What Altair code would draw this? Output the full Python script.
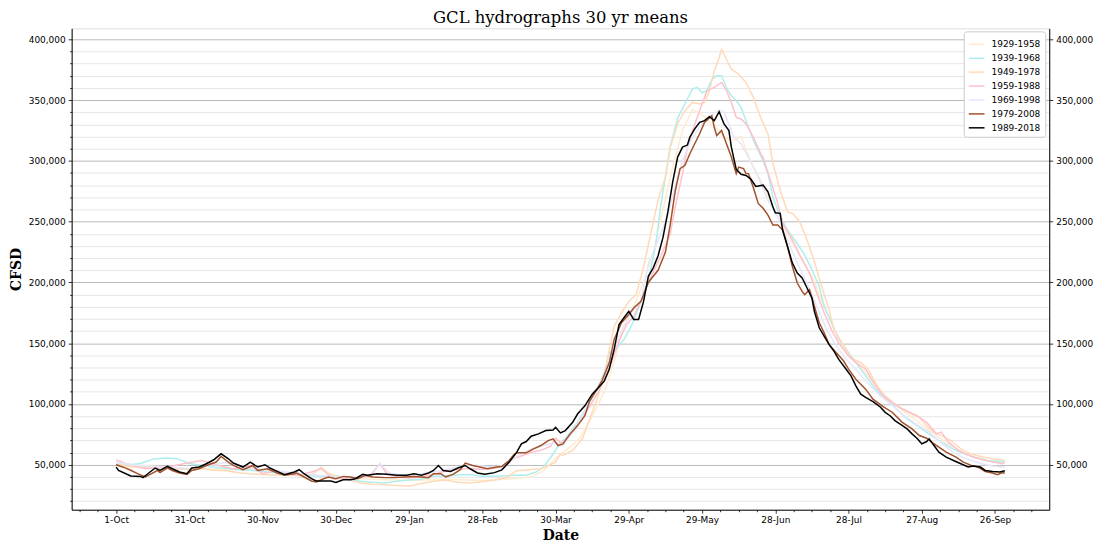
import altair as alt
import pandas as pd

PERIODS = ["1929-1958", "1939-1968", "1949-1978", "1959-1988", "1969-1998", "1979-2008", "1989-2018"]
COLORS = ["#FFEBCD", "#AFEEEE", "#FFDAB9", "#FFC0CB", "#E6E6FA", "#A0522D", "#000000"]
WIDTHS = [1.5, 1.5, 1.5, 1.5, 1.5, 1.5, 2.0]

X_TICK_LABELS = ["1-Oct", "31-Oct", "30-Nov", "30-Dec", "29-Jan", "28-Feb", "30-Mar",
                 "29-Apr", "29-May", "28-Jun", "28-Jul", "27-Aug", "26-Sep"]

# 1929-1958
D_1929 = [0, 15, 30, 45, 60, 75, 90, 105, 120, 135, 150, 160, 170, 175, 180, 185, 190, 195, 200, 204,
          208, 212, 216, 220, 224, 228, 232, 236, 240, 243, 246, 249, 253, 256, 258, 261, 265, 270, 275,
          280, 285, 290, 295, 300, 305, 310, 316, 322, 328, 334, 340, 346, 352, 358, 364]
V_1929 = [50000, 49000, 47000, 46000, 45000, 42000, 40000, 38000, 37000, 38000, 37000, 38000, 40000,
          45000, 55000, 63000, 72000, 90000, 110000, 135000, 165000, 180000, 200000, 225000, 260000,
          295000, 325000, 342000, 338000, 332000, 327000, 319000, 317000, 320000, 309000, 295000, 280000,
          258000, 240000, 222000, 205000, 180000, 158000, 142000, 130000, 118000, 105000, 95000, 86000,
          77000, 68000, 61000, 56000, 53000, 52000]

# 1939-1968
D_1939 = [0, 5, 10, 15, 20, 25, 30, 35, 40, 45, 50, 55, 60, 65, 70, 75, 80, 85, 90, 95, 100, 105, 110,
          115, 120, 125, 130, 135, 140, 145, 150, 155, 160, 165, 168, 172, 175, 178, 181, 185, 189, 193,
          197, 200, 202, 205, 208, 211, 214, 218, 221, 223, 225, 227, 230, 233, 236, 238, 240, 242, 244,
          246, 248, 250, 252, 254, 256, 258, 261, 263, 265, 267, 269, 272, 275, 278, 282, 285, 288, 290,
          293, 296, 300, 303, 307, 311, 315, 318, 320, 324, 330, 337, 344, 351, 357, 364]
V_1939 = [52000, 50000, 51000, 54500, 55500, 55000, 51000, 49500, 48000, 47000, 46000, 45500, 44500,
          43500, 42500, 41500, 41000, 40500, 41000, 38500, 36500, 35500, 35000, 36500, 37500, 38000,
          40500, 41000, 41500, 42000, 40500, 40500, 41000, 41500, 41300, 44000, 48000, 56000, 65000,
          74000, 85000, 98000, 112000, 126000, 142000, 146000, 153000, 164000, 179000, 202000, 230000,
          262000, 287000, 312000, 335000, 347000, 359000, 360400, 356000, 358000, 367000, 370000, 370000,
          360000, 353600, 349500, 344000, 333000, 317000, 308600, 300000, 289500, 270400, 254000, 243100,
          234900, 222600, 210400, 196700, 180400, 166800, 153100, 142200, 134000, 123100, 112200, 104000,
          99900, 95000, 87600, 79500, 69900, 61700, 56300, 53500, 52200]

# 1949-1978
D_1949 = [0, 5, 10, 15, 20, 25, 30, 35, 40, 45, 50, 55, 60, 65, 70, 75, 80, 84, 87, 90, 95, 100, 105,
          110, 115, 120, 125, 130, 135, 140, 145, 150, 155, 160, 164, 170, 174, 180, 182, 183, 187, 191,
          194, 197, 200, 202, 204, 207, 210, 213, 216, 219, 222, 225, 227, 230, 233, 236, 239, 241, 243,
          245, 247, 248, 250, 252, 255, 258, 261, 264, 267, 269, 272, 275, 277, 280, 283, 286, 289, 292,
          294, 298, 301, 305, 308, 311, 314, 318, 322, 326, 329, 332, 335, 338, 342, 346, 350, 355, 359, 364]
V_1949 = [50500, 48500, 47500, 48000, 47000, 46500, 46000, 47000, 45500, 45000, 43500, 42500, 42000,
          41500, 42000, 41000, 41500, 48000, 43000, 40500, 38000, 35000, 34000, 33500, 33000, 32500,
          34500, 36500, 37500, 35500, 35000, 36000, 37500, 39500, 45000, 46000, 46700, 52200, 59000,
          57600, 61700, 71300, 87600, 104000, 123100, 144900, 164000, 175000, 184400, 190000, 212000,
          240400, 267700, 286700, 311300, 330400, 341300, 348100, 346800, 348100, 357700, 374000, 384900,
          391800, 383600, 375400, 371300, 364500, 352200, 335800, 322000, 298000, 275800, 258100, 256800,
          250000, 235000, 217200, 196700, 177700, 161300, 147600, 138100, 134000, 128600, 117700, 108100,
          101300, 95800, 91700, 89000, 82200, 76800, 74000, 69900, 63100, 59000, 56300, 54900, 53500]

# 1959-1988
D_1959 = [0, 4, 12, 21, 28, 35, 42, 48, 55, 60, 66, 74, 80, 84, 89, 95, 100, 104, 108, 111, 115, 120,
          125, 130, 135, 140, 145, 150, 155, 160, 163, 167, 170, 174, 178, 180, 182, 185, 189, 193, 197,
          200, 203, 206, 209, 212, 215, 218, 221, 223, 227, 229, 232, 234, 237, 240, 242, 245, 248, 250,
          252, 254, 256, 258, 261, 264, 265, 268, 271, 273, 277, 280, 284, 287, 290, 293, 296, 300, 303,
          307, 311, 315, 321, 328, 332, 336, 338, 341, 345, 351, 356, 363, 364]
V_1959 = [54000, 51000, 47000, 48000, 51000, 53500, 49400, 46700, 49400, 42600, 45300, 41300, 44000,
          46700, 38500, 39000, 40000, 41000, 51000, 42000, 40000, 39000, 40000, 42000, 45000, 46000,
          47000, 46000, 47000, 50000, 55000, 58000, 60000, 62000, 65000, 72000, 68000, 72000, 82000,
          95000, 108000, 120000, 135000, 152000, 165000, 172000, 185000, 200000, 213000, 221000, 240000,
          262000, 289500, 311000, 330000, 347000, 357700, 360400, 364500, 357700, 348000, 335800, 334500,
          330400, 319500, 306000, 303000, 284000, 265000, 248600, 235000, 222600, 207700, 191300, 175000,
          161000, 150000, 139500, 134000, 128600, 115000, 105000, 97000, 90300, 84900, 75400, 76800,
          68600, 61700, 56300, 53500, 50800, 52000]

# 1969-1998
D_1969 = [0, 10, 20, 30, 40, 45, 50, 60, 70, 80, 90, 100, 105, 108, 112, 120, 130, 140, 145, 150, 155,
          160, 165, 170, 175, 180, 183, 187, 191, 195, 199, 203, 207, 211, 215, 218, 222, 226, 229, 232,
          235, 238, 241, 244, 247, 249, 251, 253, 256, 259, 263, 267, 271, 275, 279, 283, 287, 291, 295,
          299, 303, 307, 313, 318, 323, 328, 333, 338, 343, 348, 354, 359, 364]
V_1969 = [52000, 49000, 48000, 47000, 50000, 52000, 48000, 46000, 44000, 42000, 40000, 40000, 42000,
          51000, 43000, 41000, 44000, 48000, 50000, 49000, 48000, 50000, 58000, 63000, 66000, 68000,
          66000, 78000, 90000, 106000, 120000, 140000, 160000, 175000, 185000, 215000, 235000, 255000,
          280000, 300000, 315000, 325000, 333000, 338000, 342000, 340000, 330000, 319500, 314000, 303000,
          286700, 267700, 254000, 235000, 216000, 199500, 180400, 161300, 147600, 136700, 128600, 119000,
          106700, 98500, 90000, 83000, 77000, 68000, 60000, 55000, 51000, 49000, 48000]

# 1979-2008
D_1979 = [0, 3, 6, 9, 12, 17, 18, 21, 23, 26, 29, 31, 34, 37, 41, 43, 46, 48, 52, 56, 58, 62, 66, 69,
          73, 74, 77, 80, 82, 85, 87, 90, 93, 96, 99, 102, 105, 110, 114, 118, 122, 125, 128, 130, 133,
          135, 138, 141, 143, 146, 149, 152, 156, 158, 161, 163, 164, 168, 171, 174, 177, 179, 181, 183,
          186, 189, 192, 194, 197, 199, 202, 204, 207, 210, 212, 215, 218, 220, 222, 225, 227, 229, 231,
          233, 235, 237, 239, 241, 243, 244, 245, 246, 248, 250, 252, 254, 255, 257, 258, 259, 261, 263,
          265, 267, 269, 271, 273, 275, 277, 279, 281, 282, 284, 286, 288, 290, 292, 295, 298, 300, 303,
          307, 310, 314, 318, 322, 326, 329, 332, 334, 337, 340, 344, 347, 351, 353, 356, 359, 361, 363, 364]
V_1979 = [50000, 48000, 45500, 42500, 40000, 45300, 43500, 47500, 45300, 43200, 42100, 45300, 46700,
          49400, 52200, 56800, 52200, 49400, 45900, 49400, 45300, 46700, 43200, 41300, 42600, 43200,
          39900, 36600, 35800, 38500, 39900, 38500, 40400, 39900, 38500, 41300, 39900, 39400, 39400,
          39900, 40400, 39900, 39400, 42600, 42600, 39900, 42100, 45900, 51400, 49400, 48100, 46700,
          48100, 48600, 53500, 58400, 59800, 59800, 63100, 65800, 69900, 71300, 65800, 67200, 75400,
          82200, 90300, 102600, 112200, 119000, 134000, 153100, 166800, 173600, 179000, 184400, 200000,
          205000, 210000, 225000, 248000, 275000, 293600, 296300, 305900, 314100, 322300, 331700, 335300,
          337200, 327600, 320900, 325000, 314100, 303100, 289500, 294900, 293600, 289500, 289500, 278000,
          265000, 261000, 255400, 247200, 247200, 243100, 229500, 213100, 199500, 192600, 189900, 194000,
          180400, 166800, 158600, 149000, 142200, 135300, 128600, 120400, 112200, 104000, 98000, 93000,
          84900, 79500, 74000, 71800, 68600, 64500, 60400, 56300, 52200, 48900, 48100, 44500, 43200,
          41800, 43500, 43000]

# 1989-2018
D_1989 = [0, 1, 4, 6, 10, 11, 13, 16, 18, 21, 23, 26, 29, 31, 34, 37, 40, 43, 46, 48, 52, 55, 58, 61,
          63, 66, 69, 73, 75, 77, 80, 82, 85, 88, 90, 93, 96, 98, 101, 103, 107, 111, 115, 119, 122, 125,
          128, 130, 132, 134, 137, 140, 143, 145, 148, 151, 155, 158, 161, 164, 166, 168, 170, 173, 176,
          179, 180, 182, 184, 187, 189, 192, 195, 197, 200, 202, 204, 206, 208, 210, 212, 214, 216, 218,
          220, 222, 224, 226, 228, 230, 232, 234, 235, 237, 239, 241, 243, 245, 247, 249, 251, 252, 254,
          256, 258, 260, 262, 265, 267, 269, 270, 272, 273, 275, 277, 279, 281, 283, 285, 286, 288, 290,
          292, 294, 296, 299, 301, 303, 305, 307, 310, 313, 315, 317, 319, 321, 324, 326, 328, 330, 332,
          333, 335, 337, 340, 343, 346, 349, 351, 354, 356, 359, 362, 364]
V_1989 = [48000, 45300, 42600, 40700, 40400, 39400, 42600, 47300, 45300, 48600, 46700, 44000, 42600,
          47300, 48100, 50800, 54100, 59000, 54900, 51400, 48100, 52200, 48100, 50000, 47300, 44500,
          41800, 44000, 45900, 42600, 38500, 36600, 36600, 36600, 35500, 37700, 37700, 38500, 42100,
          41300, 42600, 42100, 41300, 41300, 42600, 41300, 43200, 45300, 49400, 45300, 44500, 47300,
          49400, 46700, 43200, 42100, 43500, 45800, 52200, 60000, 67200, 69100, 73500, 75400, 78100,
          78600, 80800, 76200, 78100, 84900, 91700, 98500, 108100, 112200, 119000, 128600, 144900,
          165400, 170900, 176300, 169500, 169500, 184000, 205000, 212000, 222000, 237000, 258000, 283000,
          303100, 311300, 313000, 319500, 326300, 331700, 333100, 336400, 333100, 340500, 330400, 324900,
          311300, 293000, 289000, 288000, 285000, 279000, 280000, 274500, 262200, 257300, 256800, 243100,
          229500, 215900, 207700, 203600, 195400, 187200, 176300, 162700, 155800, 149000, 143500, 136700,
          128600, 123100, 114900, 108100, 105400, 102000, 97500, 93100, 90300, 86300, 83600, 79500, 75400,
          71800, 67200, 69100, 71300, 65800, 60400, 56300, 53500, 50800, 48100, 48900, 48100, 45300,
          44500, 44000, 45100]

SERIES = [(PERIODS[0], D_1929, V_1929), (PERIODS[1], D_1939, V_1939), (PERIODS[2], D_1949, V_1949),
          (PERIODS[3], D_1959, V_1959), (PERIODS[4], D_1969, V_1969), (PERIODS[5], D_1979, V_1979),
          (PERIODS[6], D_1989, V_1989)]

rows = []
for period, days, vals in SERIES:
    for d, v in zip(days, vals):
        rows.append({"period": period, "day": d, "cfsd": v})
df = pd.DataFrame(rows)

X_DOMAIN = [-18.2, 382.2]
Y_DOMAIN = [13000, 409000]
MAJOR_X = [30 * i for i in range(13)]
MINOR_X = [m * 7.5 for m in range(-2, 51) if (m * 7.5) % 30 != 0]
MAJOR_Y = [50000 * i for i in range(1, 9)]
MINOR_Y = [10000 * i for i in range(2, 41) if i % 5 != 0]

label_expr = "[" + ",".join("'%s'" % s for s in X_TICK_LABELS) + "][round(datum.value / 30)]"

xs = alt.Scale(domain=X_DOMAIN, nice=False, zero=False)
ys = alt.Scale(domain=Y_DOMAIN, nice=False, zero=False)

FONT = "DejaVu Sans"

minor_layer = alt.Chart(df).mark_line(strokeOpacity=0).encode(
    x=alt.X("day:Q", scale=xs, axis=alt.Axis(values=MINOR_X, labels=False, tickSize=2, tickColor="black",
                                            tickWidth=0.8, domain=False, grid=False, title=None, orient="bottom")),
    y=alt.Y("cfsd:Q", scale=ys, axis=alt.Axis(values=MINOR_Y, labels=False, tickSize=2, tickColor="black",
                                             tickWidth=0.8, domain=False, grid=True, gridColor="#e6e6e6",
                                             gridWidth=1, title=None, orient="left")),
    detail="period:N",
)

main_layer = alt.Chart(df).mark_line().encode(
    x=alt.X("day:Q", scale=xs, axis=alt.Axis(values=MAJOR_X, labelExpr=label_expr, tickSize=3.5,
                                            tickColor="black", tickWidth=0.8, domainColor="black",
                                            domainWidth=1, grid=False, labelFont=FONT, labelFontSize=9,
                                            labelColor="black", labelPadding=2, title="Date",
                                            titleFont="DejaVu Serif", titleFontSize=14, titleFontWeight="bold",
                                            titleColor="black", titleX=491.5, titleY=26,
                                            titleBaseline="middle", orient="bottom")),
    y=alt.Y("cfsd:Q", scale=ys, axis=alt.Axis(values=MAJOR_Y, format=",d", tickSize=3.5, tickColor="black",
                                             tickWidth=0.8, domainColor="black", domainWidth=1, grid=True,
                                             gridColor="#b8b8b8", gridWidth=1, labelFont=FONT,
                                             labelFontSize=9, labelColor="black", labelPadding=3,
                                             title="CFSD", titleFont="DejaVu Serif", titleFontSize=14,
                                             titleFontWeight="bold", titleColor="black", titleAngle=270,
                                             titleX=-55, titleY=242, titleAlign="center",
                                             titleBaseline="middle", orient="left")),
    color=alt.Color("period:N", scale=alt.Scale(domain=PERIODS, range=COLORS),
                    legend=alt.Legend(title=None, orient="none", legendX=897, legendY=3,
                                      symbolType="stroke", symbolSize=250, symbolStrokeWidth=1.5,
                                      labelFont=FONT, labelFontSize=9, labelColor="black",
                                      padding=4, rowPadding=0, labelOffset=6,
                                      fillColor="white", strokeColor="#cccccc", cornerRadius=3)),
    strokeWidth=alt.StrokeWidth("period:N", scale=alt.Scale(domain=PERIODS, range=WIDTHS), legend=None),
    order=alt.Order("day:Q"),
)

right_layer = alt.Chart(df).mark_line(strokeOpacity=0).encode(
    x=alt.X("day:Q", scale=xs, axis=None),
    y=alt.Y("cfsd:Q", scale=ys, axis=alt.Axis(values=MAJOR_Y, format=",d", tickSize=3.5, tickColor="black",
                                             tickWidth=0.8, domainColor="black", domainWidth=1, grid=False,
                                             labelFont=FONT, labelFontSize=9, labelColor="black",
                                             labelPadding=3, title=None, orient="right")),
    detail="period:N",
)

chart = alt.layer(minor_layer, main_layer, right_layer).resolve_axis(
    x="independent", y="independent"
).properties(
    width=983,
    height=484,
    title=alt.Title("GCL hydrographs 30 yr means", font="DejaVu Serif", fontSize=16.5, fontWeight="normal",
                    color="black", anchor="middle", offset=2),
    autosize=alt.AutoSizeParams(type="none"),
    padding={"left": 64, "top": 19, "right": 45, "bottom": 35},
).configure_view(stroke="black", strokeWidth=1).configure(background="white")

chart.save("out.html", embed_options={"renderer": "svg", "actions": False})
